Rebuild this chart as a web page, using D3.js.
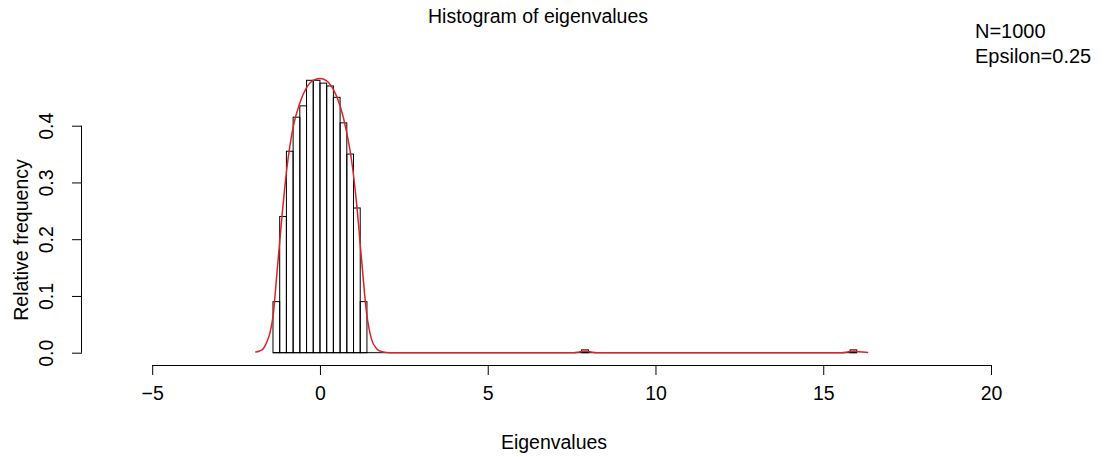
<!DOCTYPE html>
<html><head><meta charset="utf-8">
<script src="https://cdn.jsdelivr.net/npm/d3@7"></script>
<style>
  body { margin: 0; background: #fff; }
  text { font-family: "Liberation Sans", Arial, sans-serif; fill: #000; }
</style>
</head>
<body>
<div id="chart"></div>
<script>
  // histogram bins (width 0.2)
  var binStart = [-1.4, -1.2, -1.0, -0.8, -0.6, -0.4, -0.2, 0.0, 0.2, 0.4, 0.6, 0.8, 1.0, 1.2, 7.8, 15.8];
  var binDensity = [0.09, 0.24, 0.355, 0.415, 0.435, 0.48, 0.48, 0.475, 0.47, 0.45, 0.405, 0.35, 0.255, 0.09, 0.005, 0.005];
  var binWidth = 0.2;
  var emptyRange = [-1.4, 16.0];   // zero-height bins drawn as a flat line

  // density curve, read point by point
  var curveX = [-1.93, -1.8, -1.69, -1.59, -1.49, -1.39, -1.29, -1.14, -0.99, -0.79, -0.6, -0.4, -0.2, 0.0, 0.2, 0.4, 0.6, 0.79, 0.94, 1.09, 1.24, 1.39, 1.54, 1.69, 1.82, 1.98, 2.2, 7.55, 7.75, 7.9, 8.05, 8.25, 15.55, 15.75, 15.9, 16.05, 16.34];
  var curveY = [0.001, 0.003, 0.007, 0.018, 0.035, 0.068, 0.135, 0.235, 0.323, 0.4, 0.44, 0.467, 0.48, 0.483, 0.479, 0.464, 0.435, 0.39, 0.34, 0.264, 0.164, 0.07, 0.023, 0.007, 0.002, 0.0005, 0, 0, 0.0015, 0.0025, 0.0015, 0, 0, 0.0015, 0.0025, 0.0015, 0.0003];

  var xTicks = [-5, 0, 5, 10, 15, 20];
  var yTicks = [0.0, 0.1, 0.2, 0.3, 0.4];

  var width = 1108, height = 457;

  var svg = d3.select("#chart").append("svg")
    .attr("width", width)
    .attr("height", height);

  var x = d3.scaleLinear().domain([-5, 20]).range([152.2, 991]);
  var y = d3.scaleLinear().domain([0, 0.4]).range([352.7, 125.7]);

  // bars
  svg.append("line")
    .attr("x1", x(emptyRange[0])).attr("x2", x(emptyRange[1]))
    .attr("y1", y(0)).attr("y2", y(0))
    .attr("stroke", "#000").attr("stroke-width", 1);

  svg.append("g").selectAll("rect")
    .data(binStart)
    .enter().append("rect")
    .attr("x", function(d) { return x(d); })
    .attr("width", function(d) { return x(d + binWidth) - x(d); })
    .attr("y", function(d, i) { return y(binDensity[i]); })
    .attr("height", function(d, i) { return y(0) - y(binDensity[i]); })
    .attr("fill", "none")
    .attr("stroke", "#000")
    .attr("stroke-width", 1);

  // density line
  var line = d3.line()
    .x(function(d) { return x(d[0]); })
    .y(function(d) { return y(d[1]); })
    .curve(d3.curveMonotoneX);

  svg.append("path")
    .datum(curveX.map(function(v, i) { return [v, curveY[i]]; }))
    .attr("d", line)
    .attr("fill", "none")
    .attr("stroke", "#d82424")
    .attr("stroke-width", 1.5);

  // x axis
  var xAxis = svg.append("g")
    .attr("transform", "translate(0,365)")
    .call(d3.axisBottom(x).tickValues(xTicks).tickSize(10).tickPadding(11)
      .tickFormat(function(d) { return d < 0 ? "\u2212" + Math.abs(d) : d; }));
  xAxis.select(".domain").attr("d", "M" + x(-5) + ",0.5H" + x(20));
  xAxis.selectAll("text").style("font-size", "19.5px");

  // y axis
  var yAxis = svg.append("g")
    .attr("transform", "translate(82,0)")
    .call(d3.axisLeft(y).tickValues(yTicks).tickSize(10)
      .tickFormat(d3.format(".1f")));
  yAxis.select(".domain").attr("d", "M-0.5," + y(0) + "V" + y(0.4));
  yAxis.selectAll("text")
    .attr("x", null).attr("dy", null)
    .attr("text-anchor", "middle")
    .attr("transform", "translate(-29,0) rotate(-90)")
    .style("font-size", "19.5px");

  // titles
  svg.append("text")
    .attr("x", 538).attr("y", 23)
    .attr("text-anchor", "middle")
    .style("font-size", "19.5px")
    .text("Histogram of eigenvalues");

  svg.append("text")
    .attr("x", 554).attr("y", 449)
    .attr("text-anchor", "middle")
    .style("font-size", "19.5px")
    .text("Eigenvalues");

  svg.append("text")
    .attr("transform", "translate(28,240) rotate(-90)")
    .attr("text-anchor", "middle")
    .style("font-size", "19.5px")
    .text("Relative frequency");

  svg.append("text")
    .attr("x", 975).attr("y", 38)
    .style("font-size", "20px")
    .text("N=1000");

  svg.append("text")
    .attr("x", 975).attr("y", 62.5)
    .style("font-size", "20px")
    .text("Epsilon=0.25");
</script>
</body></html>
